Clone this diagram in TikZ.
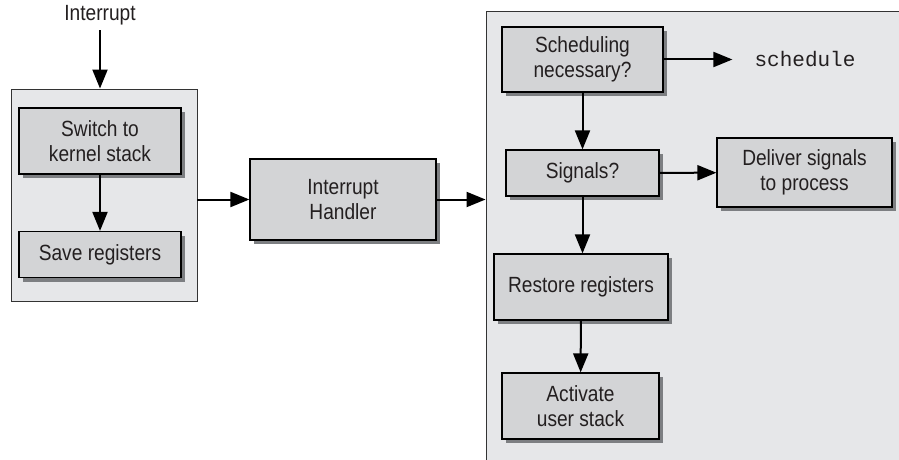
\documentclass[tikz,border=0pt]{standalone}
\usepackage{fontspec}
\setmainfont{Liberation Sans}[FakeStretch=0.87]
\setmonofont{Liberation Mono}
\usepackage{xcolor}
\usepackage{tikz}
\usetikzlibrary{arrows.meta, positioning, shadows}
\definecolor{pGray}{RGB}{230,231,233}
\definecolor{bGray}{RGB}{211,212,214}
\definecolor{sGray}{RGB}{125,127,130}
\definecolor{tDark}{RGB}{35,31,32}

\begin{document}
\begin{tikzpicture}[x=1pt, y=-1pt,
    panel/.style={draw=black!80, line width=0.9pt, fill=pGray, inner sep=0pt},
    box/.style={draw=black, line width=1.2pt, fill=bGray, text=tDark, align=center,
      font=\fontsize{22}{25}\selectfont, inner sep=0pt,
      drop shadow={shadow xshift=4pt, shadow yshift=-4pt, fill=sGray, opacity=1}},
    flow/.style={line width=2pt, -{Triangle[length=19pt, width=15pt]}}]
  % canvas
  \clip (0,0) rectangle (899,460);
  \fill[white] (0,0) rectangle (899,460);

  % left panel: entry into kernel
  \node[panel, minimum width=186pt, minimum height=212pt] (lpanel) at (104,195) {};
  \node[text=tDark, font=\fontsize{22}{25}\selectfont, inner sep=0pt] (intr) at (100,15) {Interrupt};
  \node[box, minimum width=162pt, minimum height=66pt] (switch) at (100,141) {Switch to\\kernel stack};
  \node[box, minimum width=162pt, minimum height=46pt] (save) at (100,254.5) {Save registers};

  % handler
  \node[box, minimum width=186pt, minimum height=81pt] (handler) at (343,199.5) {Interrupt\\Handler};

  % right panel: return to user mode (runs past the edges)
  \node[panel, minimum width=434pt, minimum height=469pt] (rpanel) at (703,245.5) {};
  \node[box, minimum width=161pt, minimum height=65pt] (sched) at (582.5,59.5) {Scheduling\\necessary?};
  \node[text=tDark, font=\ttfamily\fontsize{21}{25}\selectfont, inner sep=0pt] (schedfn) at (805,59) {schedule};
  \node[box, minimum width=153pt, minimum height=46pt] (signals) at (582.5,173) {Signals?};
  \node[box, minimum width=175pt, minimum height=69pt] (deliver) at (804.5,172.5) {Deliver signals\\to process};
  \node[box, minimum width=174pt, minimum height=66pt] (restore) at (581,287) {Restore registers};
  \node[box, minimum width=157pt, minimum height=66pt] (activate) at (580.5,406) {Activate\\user stack};

  % arrows
  \draw[flow] (intr.south) ++(0,5) -- (intr.south |- lpanel.north);
  \draw[flow] (switch) -- (save);
  \draw[flow] (lpanel.east |- handler.west) -- (handler.west);
  \draw[flow] (handler.east) -- (handler.east -| rpanel.west);
  \draw[flow, shorten >=22pt] (sched.east) -- (sched.east -| schedfn.west);
  \draw[flow] (sched) -- (signals);
  \draw[flow] (signals) -- (deliver);
  \draw[flow] (signals.south) -- (signals.south |- restore.north);
  \draw[flow] (restore) -- (activate);
\end{tikzpicture}
\end{document}
